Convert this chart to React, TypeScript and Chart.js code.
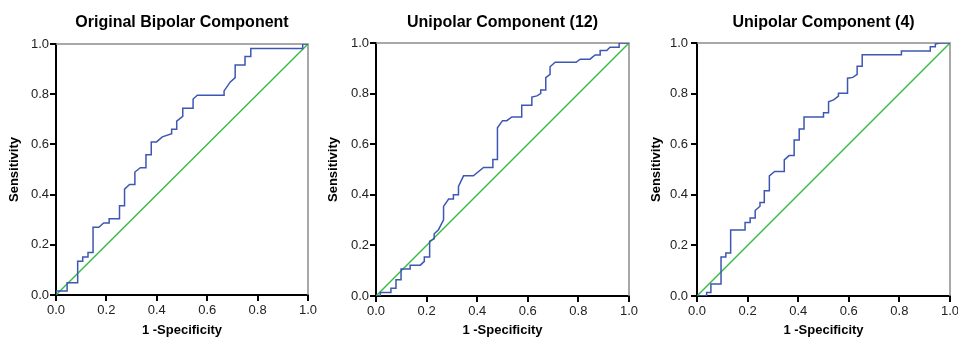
import React, { useEffect, useRef } from 'react';
import { Chart, registerables } from 'chart.js';

Chart.register(...registerables);

const titles = ['Original Bipolar Component', 'Unipolar Component (12)', 'Unipolar Component (4)'];
const xAxisLabel = '1 -Specificity';
const yAxisLabel = 'Sensitivity';
const tickValues = [0, 0.2, 0.4, 0.6, 0.8, 1.0];

const refX = [0, 1];
const refY = [0, 1];

const bipolarFpr = [0, 0, 0.044, 0.044, 0.086, 0.086, 0.106, 0.106, 0.127, 0.127, 0.147, 0.147, 0.17, 0.189, 0.211, 0.211, 0.252, 0.252, 0.272, 0.272, 0.292, 0.313, 0.313, 0.335, 0.357, 0.357, 0.378, 0.378, 0.399, 0.422, 0.459, 0.459, 0.479, 0.479, 0.503, 0.503, 0.544, 0.544, 0.561, 0.667, 0.667, 0.691, 0.711, 0.711, 0.75, 0.75, 0.773, 0.773, 0.979, 0.979, 1];
const bipolarTpr = [0, 0.016, 0.016, 0.049, 0.049, 0.134, 0.134, 0.151, 0.151, 0.169, 0.169, 0.27, 0.27, 0.287, 0.287, 0.304, 0.304, 0.356, 0.356, 0.422, 0.44, 0.44, 0.49, 0.507, 0.507, 0.559, 0.559, 0.61, 0.61, 0.63, 0.643, 0.66, 0.66, 0.693, 0.712, 0.744, 0.744, 0.781, 0.796, 0.796, 0.813, 0.848, 0.866, 0.916, 0.916, 0.95, 0.95, 0.982, 0.982, 1.0, 1];

const uni12Fpr = [0, 0.017, 0.017, 0.059, 0.059, 0.079, 0.079, 0.099, 0.099, 0.135, 0.135, 0.175, 0.191, 0.191, 0.212, 0.212, 0.23, 0.23, 0.247, 0.267, 0.267, 0.287, 0.306, 0.306, 0.326, 0.326, 0.346, 0.385, 0.425, 0.462, 0.462, 0.48, 0.48, 0.5, 0.517, 0.537, 0.576, 0.576, 0.616, 0.616, 0.636, 0.651, 0.651, 0.671, 0.671, 0.688, 0.688, 0.708, 0.791, 0.807, 0.846, 0.866, 0.886, 0.886, 0.912, 0.925, 0.961, 0.961, 1];
const uni12Tpr = [0, 0, 0.014, 0.014, 0.031, 0.031, 0.064, 0.064, 0.107, 0.107, 0.122, 0.122, 0.137, 0.154, 0.154, 0.217, 0.226, 0.246, 0.262, 0.301, 0.354, 0.383, 0.383, 0.4, 0.4, 0.433, 0.475, 0.475, 0.508, 0.508, 0.54, 0.54, 0.665, 0.693, 0.693, 0.708, 0.708, 0.754, 0.754, 0.786, 0.791, 0.8, 0.814, 0.814, 0.863, 0.876, 0.906, 0.924, 0.924, 0.936, 0.936, 0.953, 0.953, 0.97, 0.97, 0.983, 0.983, 1, 1];

const uni4Fpr = [0, 0.038, 0.038, 0.055, 0.055, 0.095, 0.095, 0.114, 0.114, 0.133, 0.133, 0.19, 0.19, 0.21, 0.21, 0.23, 0.23, 0.249, 0.249, 0.266, 0.266, 0.286, 0.286, 0.307, 0.345, 0.345, 0.364, 0.384, 0.384, 0.404, 0.404, 0.423, 0.423, 0.5, 0.5, 0.52, 0.52, 0.54, 0.559, 0.559, 0.595, 0.595, 0.616, 0.633, 0.633, 0.653, 0.653, 0.808, 0.808, 0.922, 0.922, 0.942, 0.942, 0.96, 1];
const uni4Tpr = [0, 0, 0.014, 0.014, 0.047, 0.047, 0.154, 0.154, 0.17, 0.17, 0.261, 0.261, 0.291, 0.291, 0.308, 0.308, 0.338, 0.355, 0.37, 0.37, 0.416, 0.416, 0.475, 0.492, 0.492, 0.538, 0.555, 0.555, 0.617, 0.617, 0.66, 0.66, 0.708, 0.708, 0.724, 0.724, 0.768, 0.775, 0.79, 0.801, 0.801, 0.861, 0.864, 0.876, 0.908, 0.908, 0.954, 0.954, 0.968, 0.968, 0.985, 0.985, 0.996, 1, 1];

const curvesX = [bipolarFpr, uni12Fpr, uni4Fpr];
const curvesY = [bipolarTpr, uni12Tpr, uni4Tpr];

const FONT = "'Liberation Sans', Arial, Helvetica, sans-serif";
const BLUE = '#3d57b3';
const GREEN = '#36bb44';

// layout of each panel on the page
const panels = [
  { left: 0, width: 320, yWidth: 56, right: 12, top: 44, bottom: 42, yTitlePad: 7, yTickPad: 1 },
  { left: 320, width: 340, yWidth: 56, right: 31, top: 43, bottom: 41, yTitlePad: 6, yTickPad: 1 },
  { left: 638, width: 340, yWidth: 59, right: 28, top: 43, bottom: 41, yTitlePad: 11, yTickPad: 3 },
];

const framePlugin = {
  id: 'frame',
  beforeDatasetsDraw(chart: any) {
    const { ctx, chartArea } = chart;
    ctx.save();
    ctx.strokeStyle = '#8c8c8c';
    ctx.lineWidth = 1.5;
    ctx.beginPath();
    ctx.moveTo(chartArea.left, chartArea.top);
    ctx.lineTo(chartArea.right, chartArea.top);
    ctx.lineTo(chartArea.right, chartArea.bottom);
    ctx.stroke();
    ctx.restore();
  },
};

function Panel({ idx }: { idx: number }) {
  const ref = useRef<HTMLCanvasElement | null>(null);
  const p = panels[idx];
  useEffect(() => {
    if (!ref.current) return;
    const xs = curvesX[idx];
    const ys = curvesY[idx];
    const gridOpts = {
      drawOnChartArea: false,
      drawTicks: true,
      tickLength: 6,
      tickWidth: 2,
      tickColor: '#000',
      color: '#000',
      lineWidth: 2,
    };
    const tickFont = { family: FONT, size: 13 };
    const titleFont = { family: FONT, size: 13, weight: 'bold' as const };
    const chart = new Chart(ref.current, {
      type: 'scatter',
      data: {
        datasets: [
          {
            data: xs.map((x, i) => ({ x, y: ys[i] })),
            showLine: true,
            borderColor: BLUE,
            backgroundColor: BLUE,
            borderWidth: 1.5,
            pointRadius: 0,
            tension: 0,
          },
          {
            data: refX.map((x, i) => ({ x, y: refY[i] })),
            showLine: true,
            borderColor: GREEN,
            backgroundColor: GREEN,
            borderWidth: 1.4,
            pointRadius: 0,
          },
        ],
      },
      options: {
        animation: false,
        responsive: false,
        events: [],
        layout: { padding: { left: 0, right: p.right, top: 0, bottom: 0 } },
        plugins: {
          legend: { display: false },
          tooltip: { enabled: false },
          title: {
            display: true,
            text: titles[idx],
            color: '#000',
            fullSize: false,
            font: { family: FONT, size: 16, weight: 'bold' },
            padding: { top: 13, bottom: p.top - 13 - 19.2 },
          },
        },
        scales: {
          x: {
            type: 'linear',
            min: 0,
            max: 1,
            afterFit: (s: any) => { s.height = p.bottom; },
            afterBuildTicks: (s: any) => { s.ticks = tickValues.map((v) => ({ value: v })); },
            ticks: {
              font: tickFont,
              color: '#222',
              padding: 2,
              maxRotation: 0,
              autoSkip: false,
              callback: (v: any) => Number(v).toFixed(1),
            },
            grid: gridOpts,
            border: { display: true, color: '#000', width: 2 },
            title: { display: true, text: xAxisLabel, color: '#000', font: { ...titleFont, lineHeight: 1 }, padding: { top: 0, bottom: 0 } },
          },
          y: {
            type: 'linear',
            min: 0,
            max: 1,
            afterFit: (s: any) => { s.width = p.yWidth; },
            afterBuildTicks: (s: any) => { s.ticks = tickValues.map((v) => ({ value: v })); },
            ticks: {
              font: tickFont,
              color: '#222',
              padding: p.yTickPad,
              autoSkip: false,
              callback: (v: any) => Number(v).toFixed(1),
            },
            grid: gridOpts,
            border: { display: true, color: '#000', width: 2 },
            title: { display: true, text: yAxisLabel, color: '#000', font: titleFont, padding: { top: p.yTitlePad, bottom: 0 } },
          },
        },
      },
      plugins: [framePlugin],
    } as any);
    return () => chart.destroy();
  }, [idx]);
  return (
    <canvas
      ref={ref}
      width={p.width}
      height={337}
      style={{ position: 'absolute', left: p.left, top: 0, width: p.width, height: 337 }}
    />
  );
}

export default function App() {
  return (
    <div style={{ position: 'fixed', left: 0, top: 0, width: 958, height: 337, overflow: 'hidden', background: '#fff' }}>
      <Panel idx={0} />
      <Panel idx={1} />
      <Panel idx={2} />
    </div>
  );
}
